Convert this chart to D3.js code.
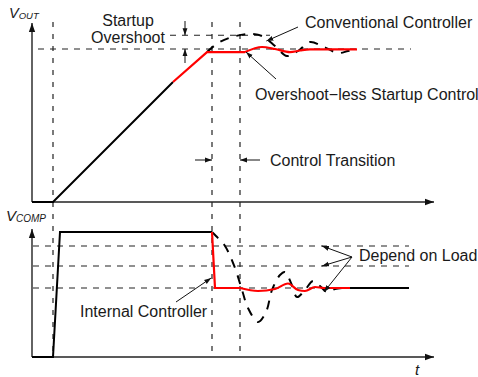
<!DOCTYPE html>
<html><head><meta charset="utf-8">
<script src="https://cdn.jsdelivr.net/npm/d3@7"></script>
<style>body{margin:0;background:#fff}svg{display:block}text{font-family:"Liberation Sans",Arial,sans-serif;fill:#1a1a1a}</style>
</head><body>
<script>
// ---- data (time in arbitrary units, voltages normalised) ----
const timeMarks = [5.25, 45, 52];            // startup, transition start, transition end
const voutRef = 1.0, voutOvershoot = 1.09;
const voutRamp = [[0,0],[5.25,0],[35.25,0.784]];
const voutSoftRamp = [[35.25,0.784],[43.75,0.98],[53.25,0.98]];
const voutOvershootLess = [[53.25,0.98],[57.5,1.013],[60.75,1.0],[64.5,0.98],[67,0.99],[69.5,0.997],[81.25,0.997]];
const voutConventional = [[43.75,0.98],[46.5,1.039],[50,1.078],[54,1.098],[57.5,1.085],[60.75,1.02],[63.75,0.954],[66.5,0.987],[69.5,1.046],[72.5,1.02],[76.5,0.974],[79,0.987],[81.25,1.0]];
const compLevels = [0.888, 0.728, 0.552];
const compStartup = [[0,0],[5.25,0],[7,1.0],[45,1.0]];
const compStep = [[45,1.0],[45.75,0.552],[52,0.552]];
const compInternal = [[52,0.552],[56.5,0.528],[60.75,0.544],[64,0.588],[66.5,0.536],[68.25,0.528],[70.75,0.56],[73,0.552],[79.5,0.552]];
const compTail = [[79.5,0.552],[94.25,0.552]];
const compConventional = [[45,1.0],[46,0.968],[48.25,0.888],[50.75,0.712],[52.5,0.536],[54,0.392],[56.5,0.28],[58.5,0.36],[60,0.536],[62,0.656],[63.25,0.68],[64.75,0.592],[66.25,0.48],[68.25,0.536],[70.25,0.608],[72,0.568],[73.75,0.52],[75.75,0.544],[77.5,0.552]];

const W = 478, H = 377;
const svg = d3.select("body").append("svg").attr("width", W).attr("height", H);
const defs = svg.append("defs");
function marker(id, size){
  defs.append("marker").attr("id", id).attr("viewBox","0 0 10 10").attr("refX",10).attr("refY",5)
    .attr("markerWidth",size).attr("markerHeight",size).attr("orient","auto").attr("markerUnits","userSpaceOnUse")
    .append("path").attr("d","M0,1.5 L10,5 L0,8.5 Z").attr("fill","#111");
}
marker("ah", 7); marker("axh", 9);

const x = d3.scaleLinear().domain([0,100]).range([32,432]);
const yT = d3.scaleLinear().domain([0,1]).range([202,49]);
const yB = d3.scaleLinear().domain([0,1]).range([357,232]);

const lineT = d3.line().x(d=>x(d[0])).y(d=>yT(d[1]));
const lineB = d3.line().x(d=>x(d[0])).y(d=>yB(d[1]));
const smoothT = d3.line().x(d=>x(d[0])).y(d=>yT(d[1])).curve(d3.curveCatmullRom.alpha(0.5));
const smoothB = d3.line().x(d=>x(d[0])).y(d=>yB(d[1])).curve(d3.curveCatmullRom.alpha(0.5));
const monoT = d3.line().x(d=>x(d[0])).y(d=>yT(d[1])).curve(d3.curveMonotoneX);
const monoB = d3.line().x(d=>x(d[0])).y(d=>yB(d[1])).curve(d3.curveMonotoneX);

// vertical dashed time markers
timeMarks.forEach(t=>{
  svg.append("line").attr("x1",x(t)).attr("x2",x(t)).attr("y1",22).attr("y2",355)
    .attr("stroke","#222").attr("stroke-width",1.2).attr("stroke-dasharray","5,7");
});
// reference dashed lines (top)
svg.append("line").attr("x1",38).attr("x2",411).attr("y1",yT(voutRef)).attr("y2",yT(voutRef))
  .attr("stroke","#222").attr("stroke-width",1.2).attr("stroke-dasharray","6,6");
svg.append("line").attr("x1",170).attr("x2",270).attr("y1",yT(voutOvershoot)).attr("y2",yT(voutOvershoot))
  .attr("stroke","#222").attr("stroke-width",1.2).attr("stroke-dasharray","6,6");
// bottom load levels
compLevels.forEach(v=>{
  svg.append("line").attr("x1",33).attr("x2",409).attr("y1",yB(v)).attr("y2",yB(v))
    .attr("stroke","#222").attr("stroke-width",1.2).attr("stroke-dasharray","6,6");
});

// axes
function axis(x1,y1,x2,y2){
  svg.append("line").attr("x1",x1).attr("y1",y1).attr("x2",x2).attr("y2",y2)
    .attr("stroke","#222").attr("stroke-width",1.4).attr("marker-end","url(#axh)");
}
axis(x(0), yT(0), x(0), 23);
axis(x(0), yT(0), 434, yT(0));
axis(x(0), yB(0), x(0), 229);
axis(x(0), yB(0), 434, yB(0));

// top curves
svg.append("path").attr("d",smoothT(voutConventional)).attr("fill","none").attr("stroke","#000")
  .attr("stroke-width",2).attr("stroke-dasharray","9,8");
svg.append("path").attr("d",lineT(voutRamp)).attr("fill","none").attr("stroke","#000").attr("stroke-width",2);
svg.append("path").attr("d",lineT(voutSoftRamp)).attr("fill","none").attr("stroke","#f00").attr("stroke-width",2.2);
svg.append("path").attr("d",monoT(voutOvershootLess)).attr("fill","none").attr("stroke","#f00").attr("stroke-width",2.2);

// bottom curves
svg.append("path").attr("d",smoothB(compConventional)).attr("fill","none").attr("stroke","#000")
  .attr("stroke-width",2).attr("stroke-dasharray","9,8");
svg.append("path").attr("d",lineB(compStartup)).attr("fill","none").attr("stroke","#000").attr("stroke-width",2);
svg.append("path").attr("d",lineB(compTail)).attr("fill","none").attr("stroke","#000").attr("stroke-width",2);
svg.append("path").attr("d",lineB(compStep)).attr("fill","none").attr("stroke","#f00").attr("stroke-width",2.2);
svg.append("path").attr("d",monoB(compInternal)).attr("fill","none").attr("stroke","#f00").attr("stroke-width",2.2);

// annotation arrows
function arrow(x1,y1,x2,y2){
  svg.append("line").attr("x1",x1).attr("y1",y1).attr("x2",x2).attr("y2",y2)
    .attr("stroke","#111").attr("stroke-width",1).attr("marker-end","url(#ah)");
}
arrow(185,21,185,yT(voutOvershoot));
arrow(185,63,185,yT(voutRef));
arrow(195,160,x(timeMarks[1]),160);
arrow(260,160,x(timeMarks[2]),160);
arrow(298,27,x(58.6),41);
arrow(276,79,x(53.5),yT(0.98));
arrow(176,302,x(44.8),278);
arrow(352,257,x(72.5),yB(compLevels[0]));
arrow(352,257,x(72.5),yB(compLevels[1]));
arrow(352,257,x(73),yB(0.52));

// labels
function txt(s,xx,yy,size,anchor,style){
  return svg.append("text").attr("x",xx).attr("y",yy).attr("font-size",size)
    .attr("text-anchor",anchor||"start").attr("font-style",style||"normal").text(s);
}
const fs = 16;
const vo = svg.append("text").attr("x",9).attr("y",18).attr("font-style","italic");
vo.append("tspan").attr("font-size",14.5).text("V");
vo.append("tspan").attr("font-size",9.5).attr("dy",1).text("OUT");
const vc = svg.append("text").attr("x",6).attr("y",221).attr("font-style","italic");
vc.append("tspan").attr("font-size",15).text("V");
vc.append("tspan").attr("font-size",10).attr("dy",1).text("COMP");
txt("Startup",128,26,fs,"middle");
txt("Overshoot",128,43,fs,"middle");
txt("Conventional Controller",305,28,fs);
txt("Overshoot\u2212less Startup Control",255,100,fs);
txt("Control Transition",270,166,fs);
txt("Internal Controller",80,317,fs);
txt("Depend on Load",359,261,fs);
txt("t",415,375,15,"start","italic");
</script>
</body></html>
